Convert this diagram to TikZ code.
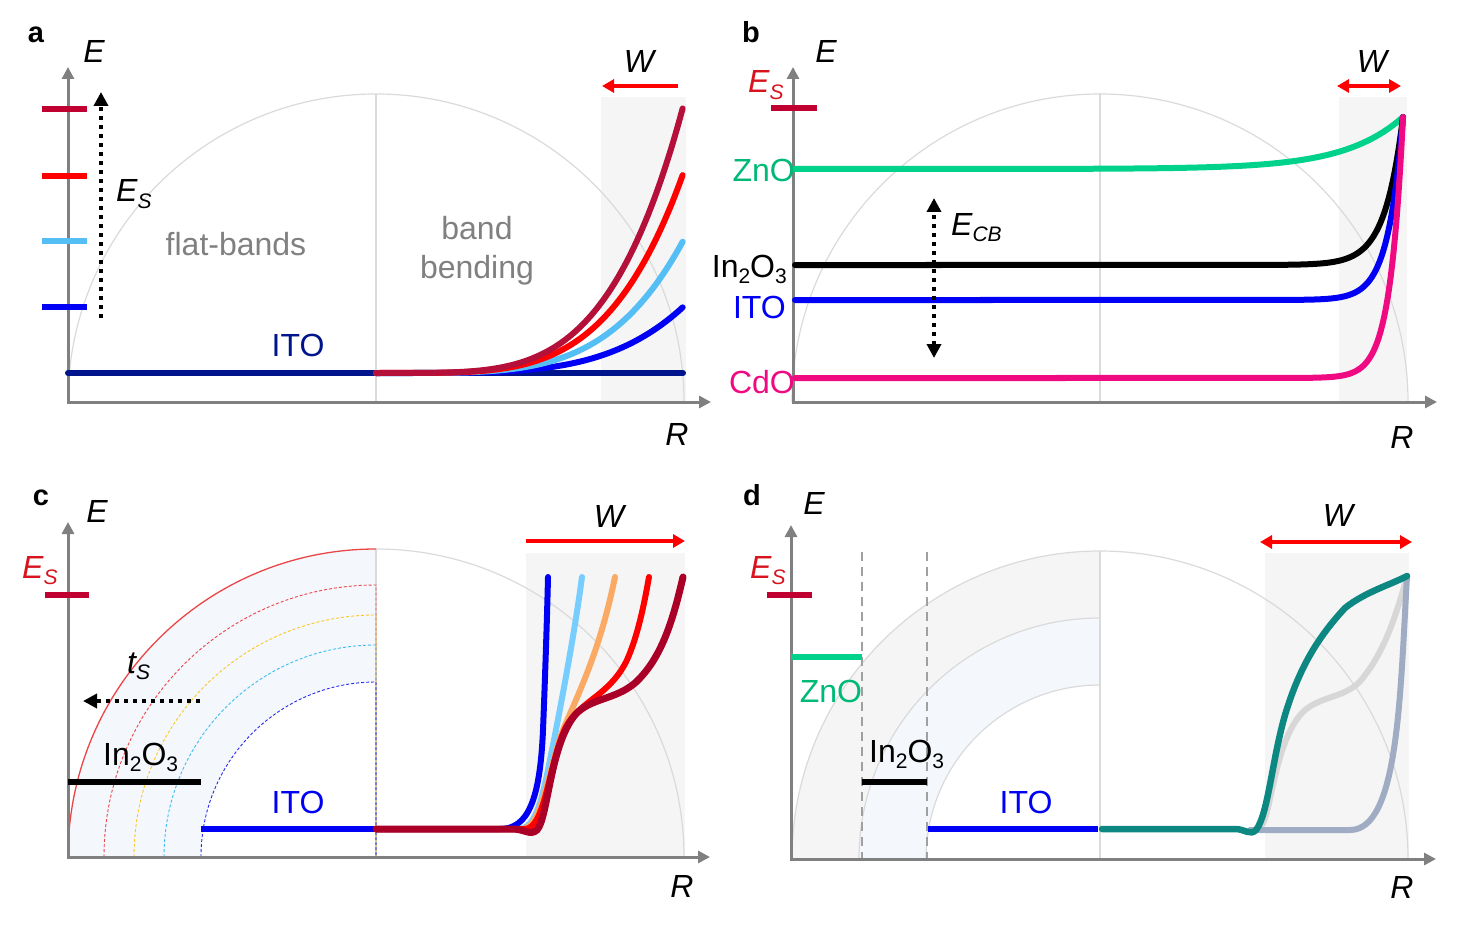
\documentclass[tikz,border=0pt]{standalone}
\usepackage{fontspec}
\setmainfont{Liberation Sans}
\usetikzlibrary{arrows.meta}
\definecolor{axgray}{RGB}{128,128,128}
\definecolor{arcgray}{RGB}{218,218,218}
\definecolor{shadegray}{RGB}{245,245,245}
\definecolor{ringblue}{RGB}{244,247,252}
\definecolor{txtgray}{RGB}{128,128,128}
\definecolor{esred}{RGB}{215,20,30}
\definecolor{crimson}{RGB}{192,0,48}
\definecolor{dred}{RGB}{180,16,58}
\definecolor{cdred}{RGB}{170,0,40}
\definecolor{myred}{RGB}{255,0,0}
\definecolor{lblue}{RGB}{85,190,245}
\definecolor{clblue}{RGB}{120,205,255}
\definecolor{myblue}{RGB}{0,0,245}
\definecolor{navy}{RGB}{0,20,140}
\definecolor{zgreen}{RGB}{0,210,140}
\definecolor{ztgreen}{RGB}{0,185,118}
\definecolor{cpink}{RGB}{240,10,130}
\definecolor{orng}{RGB}{250,170,100}
\definecolor{teal2}{RGB}{12,135,130}
\definecolor{gblue}{RGB}{160,172,196}
\definecolor{lgcurve}{RGB}{215,215,215}
\definecolor{ringred}{RGB}{235,70,70}
\definecolor{ringyel}{RGB}{250,200,40}
\definecolor{ringcy}{RGB}{60,190,240}
\definecolor{ringbl}{RGB}{40,40,240}
\newcommand\sbs[1]{\raisebox{-0.2em}{\fontsize{21}{21}\selectfont #1}}
\begin{document}
\begin{tikzpicture}[x=1pt,y=-1pt,
  txt/.style={inner sep=0pt, font=\fontsize{32}{38}\selectfont},
  itx/.style={inner sep=0pt, font=\fontsize{32}{38}\selectfont\itshape},
  lbl/.style={inner sep=0pt, font=\fontsize{29}{34}\selectfont\bfseries},
  axisline/.style={axgray, line width=3pt, {Triangle[length=12pt,width=12pt]}-{Triangle[length=12pt,width=12pt]}},
  arcline/.style={arcgray, line width=1.2pt},
  band/.style={line width=6pt, line cap=round},
  tick/.style={line width=6pt},
  dotarrow/.style={black, line width=4pt, dash pattern=on 4pt off 5pt, -{Triangle[length=14pt,width=14pt]}},
  dotdouble/.style={black, line width=4pt, dash pattern=on 4pt off 5pt, {Triangle[length=14pt,width=14pt]}-{Triangle[length=14pt,width=14pt]}},
  warrow/.style={myred, line width=4pt, -{Triangle[length=12pt,width=13pt]}},
  wdouble/.style={myred, line width=4pt, {Triangle[length=12pt,width=13pt]}-{Triangle[length=12pt,width=13pt]}},
  ringdash/.style={line width=0.9pt, dash pattern=on 3pt off 2pt},
  vdash/.style={axgray!75, line width=2.5pt, dash pattern=on 9pt off 6pt}
]
\useasboundingbox (0,0) rectangle (1469,936);

% ================= panel a =================
\fill[shadegray] (601,97) rectangle (686,402);
\draw[arcline] (68,402) arc[start angle=180,end angle=360,radius=308];
\draw[arcline] (376,94) -- (376,402);
\coordinate (aYt) at (68,67); \coordinate (aO) at (68,402); \coordinate (aXt) at (711,402);
\draw[axisline] (aYt) -- (aO) -- (aXt);
\draw[navy, band] (68,373) -- (683,373);
\draw[myblue, band] (376,373) -- plot[domain=0.02:1, samples=80] ({376+307*\x},{373-66*\x^4.3});
\draw[lblue, band] (376,373) -- plot[domain=0.02:1, samples=80] ({376+307*\x},{373-132*\x^4.3});
\draw[myred, band] (376,373) -- plot[domain=0.02:1, samples=80] ({376+307*\x},{373-199*\x^4.3});
\draw[dred, band] (376,373) -- plot[domain=0.02:1, samples=80] ({376+307*\x},{373-266*\x^4.3});
\draw[crimson, tick] (42,109) -- (87,109);
\draw[myred, tick] (42,176) -- (87,176);
\draw[lblue, tick] (42,241) -- (87,241);
\draw[myblue, tick] (42,307) -- (87,307);
\coordinate (aEsB) at (101,318); \coordinate (aEsT) at (101,92);
\draw[dotarrow] (aEsB) -- (aEsT);
\coordinate (aWt) at (678,86); \coordinate (aWh) at (602,86);
\draw[warrow] (aWt) -- (aWh);
\node[lbl, anchor=base] (la) at (36,43) {a};
\node[itx, anchor=base] (aE) at (94,63) {E};
\node[itx, anchor=base west] (aEs) at (116,202) {E\sbs{S}};
\node[txt, anchor=base, txtgray] (aflat) at (236,255) {flat-bands};
\node[txt, anchor=base, txtgray] (aband) at (477,240) {band};
\node[txt, anchor=base, txtgray] (abend) at (477,278) {bending};
\node[txt, anchor=base, navy] (aITO) at (298,356) {ITO};
\node[itx, anchor=base] (aW) at (639,73) {W};
\node[itx, anchor=base] (aR) at (677,445) {R};

% ================= panel b =================
\fill[shadegray] (1339,97) rectangle (1407,402);
\draw[arcline] (792,402) arc[start angle=180,end angle=360,radius=308];
\draw[arcline] (1100,93) -- (1100,402);
\coordinate (bYt) at (793,67); \coordinate (bO) at (793,402); \coordinate (bXt) at (1437,402);
\draw[axisline] (bYt) -- (bO) -- (bXt);
\draw[zgreen, band] plot[domain=795:1403, samples=120] (\x,{169-52*exp((\x-1403)/58)});
\draw[black, band] (795,265) -- plot[domain=1220:1403, samples=90] (\x,{265-148*exp((\x-1403)/18)});
\draw[myblue, band] (795,300) -- plot[domain=1230:1403, samples=90] (\x,{300-183*exp((\x-1403)/15)});
\draw[cpink, band] (795,378) -- plot[domain=1250:1403, samples=100] (\x,{378-261*exp((\x-1403)/13)});
\draw[crimson, tick] (771,108) -- (817,108);
\coordinate (bEb) at (934,358); \coordinate (bEt) at (934,198);
\draw[dotdouble] (bEb) -- (bEt);
\coordinate (bWl) at (1337,86); \coordinate (bWr) at (1401,86);
\draw[wdouble] (bWl) -- (bWr);
\node[lbl, anchor=base] (lb) at (751,43) {b};
\node[itx, anchor=base] (bE) at (826,63) {E};
\node[itx, anchor=base west, esred] (bEs) at (748,93) {E\sbs{S}};
\node[txt, anchor=base east, ztgreen] (bZnO) at (795,182) {ZnO};
\node[txt, anchor=base east] (bIn) at (787,277) {In\sbs{2}O\sbs{3}};
\node[txt, anchor=base east, myblue] (bITO) at (786,318) {ITO};
\node[txt, anchor=base east, cpink] (bCdO) at (795,393) {CdO};
\node[itx, anchor=base west] (bECB) at (951,235) {E\sbs{CB}};
\node[itx, anchor=base] (bW) at (1372,73) {W};
\node[itx, anchor=base] (bR) at (1402,448) {R};

% ================= panel c =================
\fill[shadegray] (526,553) rectangle (685,857);
\fill[ringblue] (68,857) arc[start angle=180,end angle=270,radius=308] -- (376,682) arc[start angle=270,end angle=180,radius=175] -- cycle;
\draw[arcline] (376,549) arc[start angle=270,end angle=360,radius=308];
\draw[arcline] (376,549) -- (376,857);
\draw[ringdash, ringred] (104,857) arc[start angle=180,end angle=270,radius=272] -- (376,857) -- cycle;
\draw[ringdash, ringyel] (134,857) arc[start angle=180,end angle=270,radius=242] -- (376,857) -- cycle;
\draw[ringdash, ringcy] (164,857) arc[start angle=180,end angle=270,radius=212] -- (376,857) -- cycle;
\draw[ringdash, ringbl] (201,857) arc[start angle=180,end angle=270,radius=175] -- (376,857) -- cycle;
\draw[ringred, line width=1.3pt] (68,857) arc[start angle=180,end angle=270,radius=308];
\coordinate (cYt) at (68,522); \coordinate (cO) at (68,857); \coordinate (cXt) at (710,857);
\draw[axisline] (cYt) -- (cO) -- (cXt);
\draw[crimson, tick] (45,595) -- (89,595);
\draw[black, band, line cap=butt] (68,782) -- (201,782);
\draw[myblue, band, line cap=butt] (201,829) -- (376,829);
\draw[myblue, band] (376,829) -- (500,829) .. controls (528,829) and (540,800) .. (543,730) .. controls (545,680) and (547,620) .. (548,577);
\draw[clblue, band] (376,829) -- (518,829) .. controls (536,829) and (542,800) .. (551,755) .. controls (562,700) and (575,630) .. (582,577);
\draw[orng, band] (376,829) -- (522,829) .. controls (542,829) and (548,770) .. (563,730) .. controls (580,690) and (600,650) .. (615,577);
\draw[myred, band] (376,829) -- (525,829) .. controls (546,829) and (550,755) .. (567,725) .. controls (582,700) and (610,695) .. (627,660) .. controls (638,635) and (644,605) .. (649,577);
\draw[cdred, line width=7pt, line cap=round] (376,829) -- (512,829) .. controls (525,829) and (530,836) .. (537,830) .. controls (548,818) and (550,745) .. (575,715) .. controls (590,698) and (615,700) .. (635,683) .. controls (660,660) and (672,625) .. (683,577);
\coordinate (ctB) at (200,701); \coordinate (ctT) at (83,701);
\draw[dotarrow] (ctB) -- (ctT);
\coordinate (cWl) at (526,541); \coordinate (cWr) at (685,541);
\draw[warrow] (cWl) -- (cWr);
\node[lbl, anchor=base] (lc) at (41,505) {c};
\node[itx, anchor=base] (cE) at (97,522) {E};
\node[itx, anchor=base west, esred] (cEs) at (22,578) {E\sbs{S}};
\node[itx, anchor=base west] (cts) at (127,673) {t\sbs{S}};
\node[txt, anchor=base west] (cIn) at (103,765) {In\sbs{2}O\sbs{3}};
\node[txt, anchor=base, myblue] (cITO) at (298,813) {ITO};
\node[itx, anchor=base] (cW) at (609,527) {W};
\node[itx, anchor=base] (cR) at (682,897) {R};

% ================= panel d =================
\fill[shadegray] (1265,553) rectangle (1409,859);
\fill[shadegray] (792,859) arc[start angle=180,end angle=270,radius=308] -- (1100,618) arc[start angle=270,end angle=180,radius=241] -- cycle;
\fill[ringblue] (859,859) arc[start angle=180,end angle=270,radius=241] -- (1100,685) arc[start angle=270,end angle=180,radius=174] -- cycle;
\draw[arcline] (792,859) arc[start angle=180,end angle=360,radius=308];
\draw[arcline] (859,859) arc[start angle=180,end angle=270,radius=241];
\draw[arcline] (926,859) arc[start angle=180,end angle=270,radius=174];
\draw[arcgray, line width=1.8pt] (1100,551) -- (1100,859);
\draw[vdash] (862,552) -- (862,859);
\draw[vdash] (927,552) -- (927,859);
\coordinate (dYt) at (791,525); \coordinate (dO) at (791,859); \coordinate (dXt) at (1436,859);
\draw[axisline] (dYt) -- (dO) -- (dXt);
\draw[crimson, tick] (767,595) -- (812,595);
\draw[zgreen, band, line cap=butt] (791,657) -- (862,657);
\draw[black, band, line cap=butt] (862,782) -- (927,782);
\draw[myblue, band, line cap=butt] (928,829) -- (1098,829);
\draw[lgcurve, band] (1258,829) .. controls (1272,825) and (1272,740) .. (1305,710) .. controls (1325,694) and (1350,698) .. (1365,675) .. controls (1385,650) and (1398,610) .. (1407,576);
\draw[gblue, band] (1250,830) -- (1350,830) .. controls (1398,830) and (1400,700) .. (1407,576);
\draw[teal2, line width=6.5pt, line cap=round] (1102,829) -- (1235,829) .. controls (1245,829) and (1250,836) .. (1256,830) .. controls (1268,815) and (1272,760) .. (1285,715) .. controls (1300,665) and (1320,635) .. (1345,608) .. controls (1365,592) and (1390,585) .. (1407,576);
\coordinate (dWl) at (1260,542); \coordinate (dWr) at (1412,542);
\draw[wdouble] (dWl) -- (dWr);
\node[lbl, anchor=base] (ld) at (752,505) {d};
\node[itx, anchor=base] (dE) at (814,514) {E};
\node[itx, anchor=base west, esred] (dEs) at (750,578) {E\sbs{S}};
\node[txt, anchor=base, ztgreen] (dZnO) at (831,702) {ZnO};
\node[txt, anchor=base west] (dIn) at (869,762) {In\sbs{2}O\sbs{3}};
\node[txt, anchor=base, myblue] (dITO) at (1026,813) {ITO};
\node[itx, anchor=base] (dW) at (1338,526) {W};
\node[itx, anchor=base] (dR) at (1402,898) {R};
\end{tikzpicture}
\end{document}
